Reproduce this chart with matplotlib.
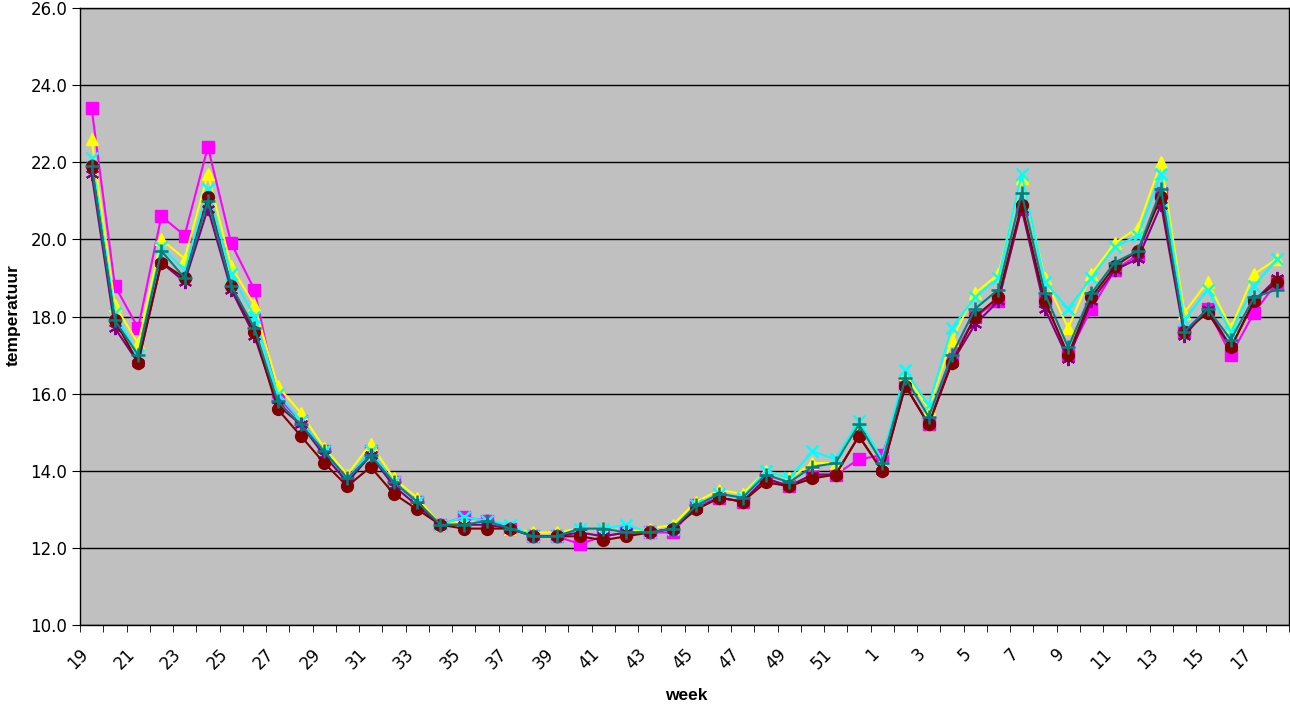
import matplotlib
matplotlib.use("Agg")
import matplotlib.pyplot as plt
from matplotlib.transforms import ScaledTranslation
import numpy as np

plt.rcParams['font.family'] = ['Liberation Sans', 'DejaVu Sans']

# week numbers (season from week 19 to week 18 next year)
weeks = list(range(19, 53)) + list(range(1, 19))

magenta = [23.4, 18.8, 17.7, 20.6, 20.1, 22.4, 19.9, 18.7, 15.9, 15.3, 14.5, 13.8, 14.5,
           13.7, 13.2, 12.6, 12.8, 12.7, 12.5, 12.3, 12.3, 12.1, 12.3, 12.4, 12.4, 12.4,
           13.1, 13.3, 13.2, 13.8, 13.6, 13.9, 13.9, 14.3, 14.4, 16.2, 15.2, 16.9, 18.0,
           18.4, 20.8, 18.4, 17.0, 18.2, 19.2, 19.6, 21.2, 17.6, 18.2, 17.0, 18.1, 18.9]
yellow = [22.6, 18.3, 17.3, 20.0, 19.5, 21.7, 19.3, 18.3, 16.2, 15.5, 14.6, 13.9, 14.7,
          13.8, 13.3, 12.6, 12.7, 12.6, 12.5, 12.4, 12.4, 12.5, 12.5, 12.4, 12.5, 12.6,
          13.2, 13.5, 13.4, 14.0, 13.8, 14.2, 14.2, 15.2, 14.2, 16.5, 15.6, 17.4, 18.6,
          19.1, 21.6, 19.0, 17.7, 19.1, 19.9, 20.3, 22.0, 18.1, 18.9, 17.7, 19.1, 19.5]
cyan = [22.1, 18.1, 17.0, 19.8, 19.2, 21.3, 19.1, 18.0, 16.0, 15.3, 14.5, 13.8, 14.5,
        13.7, 13.2, 12.6, 12.8, 12.7, 12.6, 12.3, 12.3, 12.5, 12.5, 12.6, 12.4, 12.5,
        13.1, 13.4, 13.3, 14.0, 13.8, 14.5, 14.3, 15.3, 14.3, 16.6, 15.7, 17.7, 18.5,
        19.0, 21.7, 18.9, 18.2, 19.0, 19.8, 20.1, 21.7, 17.9, 18.7, 17.6, 18.8, 19.5]
purple = [21.7, 17.7, 16.8, 19.4, 18.9, 20.8, 18.7, 17.5, 15.7, 15.2, 14.4, 13.7, 14.4,
          13.6, 13.1, 12.6, 12.6, 12.6, 12.5, 12.3, 12.3, 12.4, 12.3, 12.4, 12.4, 12.5,
          13.0, 13.3, 13.2, 13.8, 13.6, 13.9, 13.9, 14.9, 14.0, 16.2, 15.2, 16.8, 17.8,
          18.4, 20.8, 18.2, 16.9, 18.4, 19.2, 19.5, 20.9, 17.5, 18.2, 17.2, 18.4, 19.0]
darkred = [21.9, 17.9, 16.8, 19.4, 19.0, 21.1, 18.8, 17.6, 15.6, 14.9, 14.2, 13.6, 14.1,
           13.4, 13.0, 12.6, 12.5, 12.5, 12.5, 12.3, 12.3, 12.3, 12.2, 12.3, 12.4, 12.5,
           13.0, 13.3, 13.2, 13.7, 13.6, 13.8, 13.9, 14.9, 14.0, 16.2, 15.2, 16.8, 18.0,
           18.5, 20.9, 18.4, 17.0, 18.5, 19.3, 19.7, 21.1, 17.6, 18.1, 17.2, 18.4, 18.9]
teal = [21.9, 17.9, 17.0, 19.7, 19.0, 21.0, 18.8, 17.7, 15.8, 15.2, 14.5, 13.8, 14.4,
        13.7, 13.2, 12.6, 12.6, 12.7, 12.5, 12.3, 12.3, 12.5, 12.5, 12.4, 12.4, 12.5,
        13.1, 13.4, 13.3, 13.9, 13.7, 14.1, 14.2, 15.2, 14.2, 16.4, 15.4, 17.0, 18.2,
        18.7, 21.2, 18.6, 17.2, 18.6, 19.4, 19.7, 21.3, 17.6, 18.2, 17.4, 18.5, 18.7]

x = np.arange(len(weeks))

fig = plt.figure(figsize=(12.9, 7.06), dpi=100)
ax = fig.add_axes([80 / 1290, 1 - 625 / 706, 1209 / 1290, 617 / 706])
ax.set_facecolor('#C0C0C0')

ax.plot(x, magenta, color='#FF00FF', marker='s', ms=8.5, lw=1.5, zorder=3)
ax.plot(x, yellow, color='#FFFF00', marker='^', ms=9, lw=1.5, zorder=3)
ax.plot(x, cyan, color='#00FFFF', marker='x', ms=8.5, mew=1.8, lw=1.5, zorder=3)
ax.plot(x, purple, color='#800080', marker=(6, 2, 0), ms=9.5, mew=1.5, lw=1.5, zorder=3)
ax.plot(x, darkred, color='#800000', marker='o', ms=8.5, lw=1.5, zorder=3)
ax.plot(x, teal, color='#008080', marker='+', ms=10.5, mew=1.8, lw=1.5, zorder=3)

tickfont = dict(family='DejaVu Sans', size=12)

ax.set_ylim(10, 26)
yt = np.arange(10, 26.1, 2)
ax.set_yticks(yt)
ax.set_yticklabels([f"{v:.1f}" for v in yt], fontdict=tickfont)
ax.yaxis.grid(True, color='black', lw=1)
ax.set_axisbelow(True)

ax.set_xlim(-0.5, len(weeks) - 0.5)
ax.set_xticks(x[::2])
ax.set_xticklabels([str(w) for w in weeks[::2]], fontdict=tickfont, rotation=45,
                   ha='right', va='center', rotation_mode='anchor')
ax.set_xticks(np.arange(-0.5, len(weeks), 1), minor=True)
ax.tick_params(axis='x', which='major', length=0, pad=19)
ax.tick_params(axis='x', which='minor', length=5, color='black')
ax.tick_params(axis='y', length=6, color='black', pad=3)
shift = ScaledTranslation(-6 / 100, 0, fig.dpi_scale_trans)
for lab in ax.get_xticklabels():
    lab.set_transform(lab.get_transform() + shift)
for s in ax.spines.values():
    s.set_color('black')
    s.set_linewidth(1)

ax.set_xlabel('week', fontsize=12.5, fontweight='bold')
ax.set_ylabel('temperatuur', fontsize=12.5, fontweight='bold')
ax.xaxis.set_label_coords((686 - 80) / 1209, (625 - 688) / 617)
ax.yaxis.set_label_coords((21 - 80) / 1209, (625 - 315) / 617)

fig.savefig('out.png', dpi=100)
